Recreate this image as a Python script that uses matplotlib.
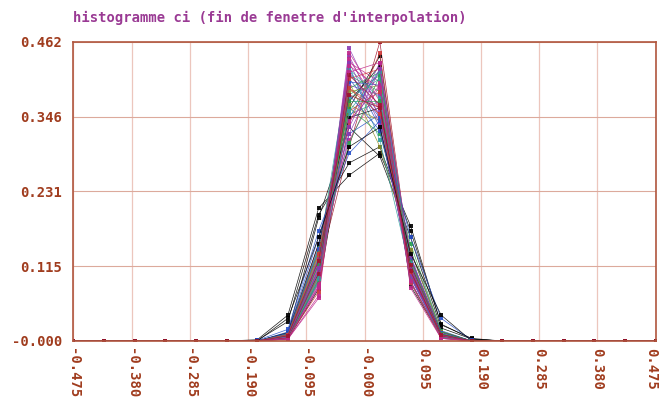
import matplotlib
matplotlib.use("Agg")
import matplotlib.pyplot as plt
import matplotlib.transforms as mtransforms

# centres des classes
bins = [-0.475, -0.425, -0.375, -0.325, -0.275, -0.225, -0.175, -0.125, -0.075, -0.025,
        0.025, 0.075, 0.125, 0.175, 0.225, 0.275, 0.325, 0.375, 0.425, 0.475]

# valeurs non nulles, classes -0.175 .. 0.175
centre = [
    [0.000, 0.004, 0.085, 0.452, 0.355, 0.098, 0.006, 0.000],
    [0.000, 0.008, 0.110, 0.300, 0.462, 0.114, 0.006, 0.000],
    [0.002, 0.040, 0.205, 0.256, 0.290, 0.178, 0.025, 0.004],
    [0.001, 0.030, 0.195, 0.275, 0.300, 0.170, 0.026, 0.003],
    [0.000, 0.012, 0.190, 0.330, 0.285, 0.160, 0.020, 0.003],
    [0.000, 0.006, 0.120, 0.420, 0.330, 0.115, 0.009, 0.000],
    [0.000, 0.005, 0.095, 0.380, 0.410, 0.103, 0.007, 0.000],
    [0.000, 0.003, 0.080, 0.360, 0.440, 0.110, 0.007, 0.000],
    [0.000, 0.010, 0.130, 0.350, 0.370, 0.130, 0.010, 0.000],
    [0.000, 0.007, 0.150, 0.310, 0.395, 0.125, 0.013, 0.000],
    [0.000, 0.004, 0.100, 0.440, 0.345, 0.100, 0.011, 0.000],
    [0.000, 0.009, 0.140, 0.400, 0.300, 0.140, 0.011, 0.000],
    [0.000, 0.006, 0.118, 0.345, 0.420, 0.105, 0.006, 0.000],
    [0.000, 0.011, 0.125, 0.390, 0.360, 0.105, 0.009, 0.000],
    [0.000, 0.005, 0.090, 0.410, 0.385, 0.100, 0.010, 0.000],
    [0.000, 0.014, 0.160, 0.320, 0.350, 0.140, 0.016, 0.000],
    [0.000, 0.003, 0.070, 0.430, 0.400, 0.092, 0.005, 0.000],
    [0.000, 0.008, 0.105, 0.370, 0.425, 0.085, 0.007, 0.000],
    [0.000, 0.012, 0.135, 0.425, 0.310, 0.108, 0.010, 0.000],
    [0.000, 0.006, 0.112, 0.395, 0.380, 0.098, 0.009, 0.000],
    [0.000, 0.010, 0.145, 0.360, 0.320, 0.150, 0.015, 0.000],
    [0.000, 0.004, 0.098, 0.335, 0.445, 0.112, 0.006, 0.000],
    [0.000, 0.007, 0.128, 0.405, 0.345, 0.108, 0.007, 0.000],
    [0.000, 0.009, 0.100, 0.385, 0.395, 0.102, 0.009, 0.000],
    [0.000, 0.005, 0.082, 0.445, 0.370, 0.092, 0.006, 0.000],
    [0.000, 0.013, 0.150, 0.345, 0.360, 0.118, 0.014, 0.000],
    [0.000, 0.006, 0.108, 0.375, 0.405, 0.100, 0.006, 0.000],
    [0.000, 0.008, 0.118, 0.415, 0.350, 0.102, 0.007, 0.000],
    [0.000, 0.011, 0.138, 0.305, 0.410, 0.125, 0.011, 0.000],
    [0.000, 0.004, 0.092, 0.400, 0.395, 0.105, 0.004, 0.000],
    [0.000, 0.007, 0.115, 0.355, 0.385, 0.128, 0.010, 0.000],
    [0.000, 0.005, 0.088, 0.435, 0.360, 0.105, 0.007, 0.000],
    [0.000, 0.010, 0.122, 0.330, 0.430, 0.100, 0.008, 0.000],
    [0.000, 0.006, 0.102, 0.420, 0.375, 0.090, 0.007, 0.000],
    [0.000, 0.009, 0.132, 0.365, 0.340, 0.140, 0.014, 0.000],
    [0.000, 0.004, 0.094, 0.390, 0.415, 0.092, 0.005, 0.000],
    [0.000, 0.012, 0.142, 0.380, 0.325, 0.128, 0.013, 0.000],
    [0.000, 0.005, 0.076, 0.405, 0.420, 0.090, 0.004, 0.000],
    [0.000, 0.008, 0.126, 0.340, 0.395, 0.122, 0.009, 0.000],
    [0.000, 0.006, 0.108, 0.430, 0.335, 0.112, 0.009, 0.000],
    [0.000, 0.003, 0.066, 0.415, 0.430, 0.082, 0.004, 0.000],
    [0.000, 0.009, 0.118, 0.370, 0.370, 0.122, 0.011, 0.000],
    [0.001, 0.018, 0.170, 0.290, 0.340, 0.160, 0.035, 0.001],
    [0.000, 0.006, 0.096, 0.355, 0.415, 0.120, 0.008, 0.000],
    [0.000, 0.010, 0.135, 0.390, 0.350, 0.107, 0.008, 0.000],
    [0.000, 0.005, 0.104, 0.410, 0.365, 0.108, 0.008, 0.000],
    [0.000, 0.007, 0.112, 0.320, 0.420, 0.132, 0.009, 0.000],
    [0.000, 0.004, 0.084, 0.425, 0.390, 0.092, 0.005, 0.000],
    [0.000, 0.035, 0.160, 0.300, 0.330, 0.135, 0.040, 0.000],
    [0.000, 0.008, 0.124, 0.380, 0.360, 0.118, 0.010, 0.000],
]

couleurs = ["purple", "darkred", "black", "black", "black", "blue", "green", "black",
            "teal", "magenta", "purple", "olive", "blue", "red", "green", "blue",
            "magenta", "black", "teal", "purple", "green", "red", "blue", "olive",
            "magenta", "black", "teal", "purple", "green", "blue", "red", "magenta",
            "purple", "teal", "olive", "green", "blue", "red", "magenta", "purple",
            "magenta", "green", "blue", "teal", "red", "darkred", "purple", "magenta",
            "black", "darkred"]

palette = {"black": "#000000", "purple": "#8a3cb4", "blue": "#2850c8",
           "green": "#28a050", "teal": "#30a0a0", "magenta": "#c0288c",
           "red": "#d03c3c", "olive": "#8c8c28", "darkred": "#a0142d"}

xticks = [-0.475, -0.380, -0.285, -0.190, -0.095, 0.0, 0.095, 0.190, 0.285, 0.380, 0.475]
xlabels = ["-0.475", "-0.380", "-0.285", "-0.190", "-0.095", "-0.000",
           "0.095", "0.190", "0.285", "0.380", "0.475"]
yticks = [0.0, 0.1155, 0.231, 0.3465, 0.462]
ylabels = ["-0.000", "0.115", "0.231", "0.346", "0.462"]

brun = "#a03c1e"
titre_col = "#9a3a94"

fig = plt.figure(figsize=(6.61, 4.0), dpi=100)
ax = fig.add_axes([0.111, 0.1475, 0.881, 0.748])

zeros = [0.0] * 6
for vals, c in zip(centre, couleurs):
    y = zeros + vals + zeros
    ax.plot(bins, y, "-", color=palette[c], lw=0.5, marker="s", ms=2.4,
            mew=0, alpha=0.9)

ax.set_xlim(-0.475, 0.475)
ax.set_ylim(0, 0.462)
ax.set_xticks(xticks)
ax.set_xticklabels(xlabels, rotation=-90, va="top", ha="center")
ax.set_yticks(yticks)
ax.set_yticklabels(ylabels)
ax.tick_params(length=0, colors=brun, labelsize=10)
ax.tick_params(axis="x", pad=5)
ax.tick_params(axis="y", pad=8)
for lab in ax.get_xticklabels() + ax.get_yticklabels():
    lab.set_family("DejaVu Sans Mono")
    lab.set_fontweight("bold")
# dernier label un peu a gauche pour rester dans l'image
dernier = ax.get_xticklabels()[-1]
dernier.set_transform(dernier.get_transform() +
                      mtransforms.ScaledTranslation(-3 / 72, 0, fig.dpi_scale_trans))

ax.xaxis.grid(True, color="#ecc6bd", lw=0.9)
ax.yaxis.grid(True, color="#dcaa9c", lw=0.8)
ax.set_axisbelow(True)
for s in ax.spines.values():
    s.set_color("#b0563e")
    s.set_linewidth(1.2)

fig.text(0.111, 0.955, "histogramme ci (fin de fenetre d'interpolation)",
         color=titre_col, family="DejaVu Sans Mono", fontweight="bold",
         fontsize=10, va="center", ha="left")

fig.savefig("out.png", dpi=100)
